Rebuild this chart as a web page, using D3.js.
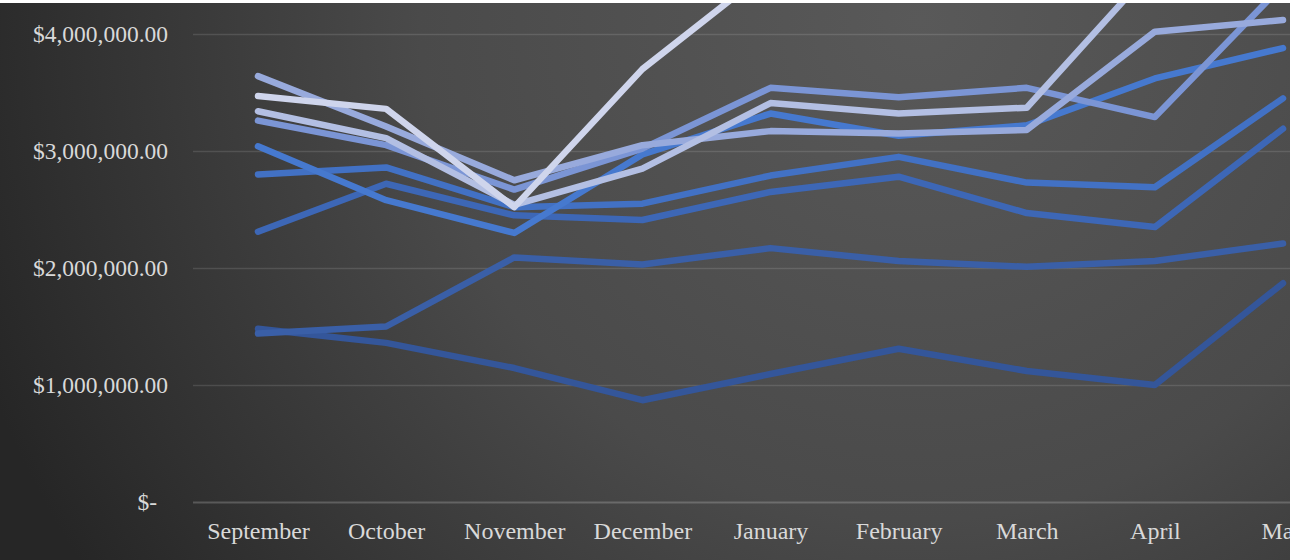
<!DOCTYPE html>
<html>
<head>
<meta charset="utf-8">
<script src="https://cdn.jsdelivr.net/npm/d3@7/dist/d3.min.js"></script>
<style>
  html, body { margin: 0; padding: 0; background: #fff; overflow: hidden; }
  svg { display: block; }
</style>
</head>
<body>
<svg id="chart" width="1290" height="560"></svg>
<script>
// ---- data (values in dollars) ----
const months = ["September", "October", "November", "December", "January", "February", "March", "April", "May"];
const yTicks = [0, 1000000, 2000000, 3000000, 4000000];

const seriesI = [1480000, 1360000, 1145000, 870000, 1094000, 1310000, 1120000, 1000000, 1870000];
const seriesH = [1440000, 1500000, 2090000, 2030000, 2170000, 2060000, 2010000, 2060000, 2210000];
const seriesG = [2310000, 2720000, 2450000, 2410000, 2650000, 2780000, 2470000, 2350000, 3190000];
const seriesF = [2800000, 2860000, 2520000, 2550000, 2790000, 2950000, 2730000, 2690000, 3450000];
const seriesE = [3040000, 2580000, 2300000, 2970000, 3320000, 3130000, 3220000, 3620000, 3880000];
const seriesD = [3260000, 3050000, 2670000, 3020000, 3540000, 3460000, 3540000, 3290000, 4420000];
const seriesA = [3640000, 3210000, 2750000, 3050000, 3170000, 3150000, 3180000, 4020000, 4120000];
const seriesC = [3340000, 3110000, 2540000, 2850000, 3410000, 3320000, 3370000, 4580000, 4700000];
const seriesB = [3470000, 3360000, 2520000, 3700000, 4560000, 4700000, 4850000, 5000000, 5100000];

const seriesList = [seriesI, seriesH, seriesG, seriesF, seriesE, seriesD, seriesA, seriesC, seriesB];
const colors = ["#34569a", "#3a5fa7", "#3d67b6", "#4271c4", "#4679cf", "#7b95d5", "#98aadc", "#b3bfe3", "#cfd5ec"];

// ---- drawing ----
const W = 1290, H = 560;
const svg = d3.select("#chart");
const defs = svg.append("defs");

const grad = defs.append("radialGradient")
  .attr("id", "bg").attr("gradientUnits", "userSpaceOnUse")
  .attr("cx", 920).attr("cy", 20).attr("r", 1000);
grad.append("stop").attr("offset", "0").attr("stop-color", "#595959");
grad.append("stop").attr("offset", "0.5").attr("stop-color", "#4a4a4a");
grad.append("stop").attr("offset", "1").attr("stop-color", "#262626");

defs.append("clipPath").attr("id", "plotClip")
  .append("rect").attr("x", 0).attr("y", 3).attr("width", W).attr("height", H - 3);

svg.append("rect").attr("width", W).attr("height", H).attr("fill", "url(#bg)");
svg.append("rect").attr("width", W).attr("height", 3).attr("fill", "#ffffff");

const x = d3.scalePoint().domain(months).range([258, 1283]);
const y = d3.scaleLinear().domain([0, 4000000]).range([502, 34]);

// gridlines
const yAxis = d3.axisLeft(y).tickValues(yTicks).tickSize(-(W - 193)).tickFormat("");
const gGrid = svg.append("g").attr("transform", "translate(193,0)").call(yAxis);
gGrid.select(".domain").remove();
gGrid.selectAll(".tick line")
  .attr("stroke", d => d === 0 ? "rgba(255,255,255,0.2)" : "rgba(255,255,255,0.12)")
  .attr("stroke-width", d => d === 0 ? 2 : 1.5);

// y labels
const fmt = d3.format("$,.2f");
svg.append("g").selectAll("text").data(yTicks).join("text")
  .attr("x", d => d === 0 ? 157 : 168)
  .attr("y", d => y(d))
  .attr("dy", "0.33em")
  .attr("text-anchor", "end")
  .attr("font-family", "'Liberation Serif', 'Times New Roman', serif")
  .attr("font-size", 23.5)
  .attr("fill", "#d9d9d9")
  .text(d => d === 0 ? "$-" : fmt(d));

// x labels
const xAxis = d3.axisBottom(x).tickSize(0).tickPadding(0);
const gX = svg.append("g").attr("transform", "translate(0,539)").call(xAxis);
gX.select(".domain").remove();
gX.selectAll(".tick text")
  .attr("dy", 0).attr("y", 0)
  .attr("font-family", "'Liberation Serif', 'Times New Roman', serif")
  .attr("font-size", 24)
  .attr("fill", "#d9d9d9");

// lines
const line = d3.line().x((d, i) => x(months[i])).y(d => y(d));
svg.append("g").attr("clip-path", "url(#plotClip)")
  .selectAll("path").data(seriesList).join("path")
  .attr("d", d => line(d))
  .attr("fill", "none")
  .attr("stroke", (d, i) => colors[i])
  .attr("stroke-width", 6.5)
  .attr("stroke-linecap", "round")
  .attr("stroke-linejoin", "round");
</script>
</body>
</html>
